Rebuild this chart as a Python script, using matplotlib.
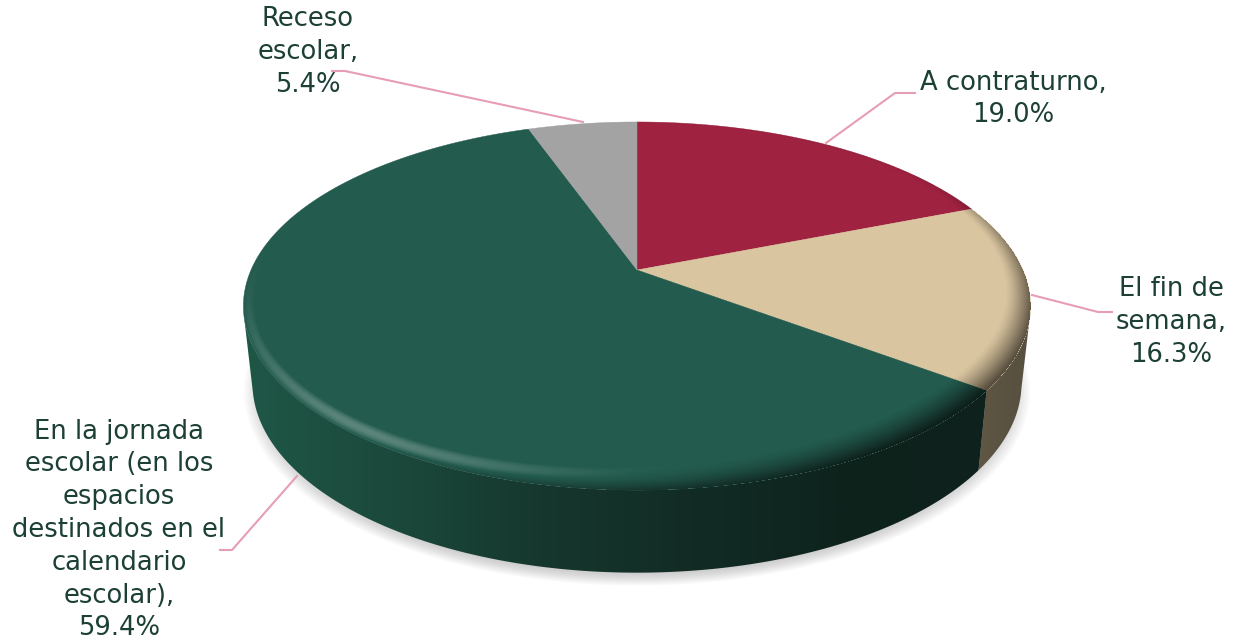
import numpy as np
import matplotlib
matplotlib.use('Agg')
import matplotlib.pyplot as plt
from matplotlib.colors import LinearSegmentedColormap, to_rgb
from matplotlib.patches import Polygon

# datos de la grafica, en el sentido del reloj desde las 12
labels = ['A contraturno', 'El fin de\nsemana',
          'En la jornada\nescolar (en los\nespacios\ndestinados en el\ncalendario\nescolar)',
          'Receso\nescolar']
values = [19.0, 16.3, 59.4, 5.4]
top_colors = ['#9F2241', '#D9C5A0', '#235B4E', '#A3A3A3']
side_stops = [['#5A1326', '#5A1326'],
              ['#5F5643', '#565040'],
              ['#1F5747', '#1B493C', '#16372E', '#122C25', '#0E231D', '#0E211C'],
              ['#5C5C5C', '#5C5C5C']]
rim_colors = ['#5A1326', '#5A5040', '#0E211C', '#5C5C5C']
label_pos = [(1013, 99), (1171, 322), (119, 530), (308, 52)]
leaders = [[(826, 143), (895, 93), (915, 93)],
           [(1032, 295), (1098, 312), (1112, 312)],
           [(297, 476), (232, 550), (220, 550)],
           [(583, 122), (345, 71), (332, 71)]]

text_color = '#1C3F36'
line_color = '#E79DB3'

# perspectiva del disco
cx, cy = 637, 270
rx, ry = 386, 177
persp = 0.1957
depth = 76
bottom_sx = 0.977
bottom_sy = 1.03
# parte visible de la pared, en grados
wall_from, wall_to = 103, 255


def project(u, v):
    w = 1 - persp * v
    return cx + rx * u / w, cy + ry * v / w


def unproject(x, y):
    dy = (y - cy) / ry
    v = dy / (1 + persp * dy)
    u = (x - cx) / rx * (1 - persp * v)
    return u, v


def top_arc(a0, a1, n=200):
    t = np.radians(np.linspace(a0, a1, n))
    return project(np.sin(t), -np.cos(t))


def bottom_arc(a0, a1, n=200):
    x, y = top_arc(a0, a1, n)
    return cx + (x - cx) * bottom_sx, cy + depth + (y - cy) * bottom_sy


fig = plt.figure(figsize=(12.38, 6.4), dpi=100)
ax = fig.add_axes([0, 0, 1, 1])
ax.set_axis_off()

total = sum(values)
edges = np.concatenate([[0], np.cumsum(values)]) / total * 360

# sombra suave debajo del disco
bx, by = bottom_arc(0, 360, 360)
for k in range(14):
    s = 1.022 - k * 0.004
    sx = cx + (bx - cx) * s
    sy = cy + depth + (by - cy - depth) * s + 8
    ax.add_patch(Polygon(np.column_stack([sx, sy]), closed=True, fc='#808080',
                         ec='none', alpha=0.03, zorder=1))

# paredes laterales
for i in range(len(values)):
    a0, a1 = max(edges[i], wall_from), min(edges[i + 1], wall_to)
    if a1 <= a0:
        continue
    x0, y0 = top_arc(a0, a1)
    x1, y1 = bottom_arc(a1, a0)
    side = Polygon(np.column_stack([np.r_[x0, x1], np.r_[y0, y1]]), closed=True,
                   fc='none', ec='none', zorder=2 + (i == 2))
    ax.add_patch(side)
    cmap = LinearSegmentedColormap.from_list('side%d' % i, side_stops[i])
    xmin, xmax = min(x0.min(), x1.min()), max(x0.max(), x1.max())
    grad = ax.imshow(np.linspace(0, 1, 256)[None, :], cmap=cmap, aspect='auto',
                     extent=(xmin, xmax, 640, 0), zorder=2 + (i == 2))
    grad.set_clip_path(side)

# cara superior
for i in range(len(values)):
    x0, y0 = top_arc(edges[i], edges[i + 1])
    pts = np.column_stack([np.r_[cx, x0], np.r_[cy, y0]])
    ax.add_patch(Polygon(pts, closed=True, fc=top_colors[i], ec=top_colors[i],
                         lw=0.3, zorder=4))

# bisel del borde: capa rgba segun la distancia al borde y la luz
gx, gy = np.meshgrid(np.arange(230, 1045) + 0.5, np.arange(110, 505) + 0.5)
gu, gv = unproject(gx, gy)
r = np.sqrt(gu ** 2 + gv ** 2)
nu, nv = gu / r, gv / r
light = np.clip(nu * -0.5 + nv * 0.87, 0, 1)
dark = np.clip(nu * 0.75 + nv * 0.66, 0, 1)
width = 0.025 + 0.04 * np.clip(nv, 0, 1) ** 2 + 0.05 * dark ** 2
t = np.clip((r - 1 + width) / width, 0, 1)
alpha_dark = np.clip(dark ** 1.3 * t ** 1.3 * 1.1, 0, 1)
alpha_light = light ** 4 * np.sin(np.pi * t) * 0.28
alpha_edge = t ** 5 * 0.4 * np.clip(nu * 0.8 - nv * 0.2, 0, 1)
alpha_dark = np.maximum(alpha_dark, alpha_edge)

angle = np.degrees(np.arctan2(gu, -gv)) % 360
slice_idx = np.clip(np.searchsorted(edges, angle) - 1, 0, len(values) - 1)
rim_rgb = np.array([to_rgb(c) for c in rim_colors])[slice_idx]
rgba = np.zeros(gx.shape + (4,))
rgba[..., :3] = np.where(alpha_light[..., None] > alpha_dark[..., None], 1.0, rim_rgb)
rgba[..., 3] = np.abs(alpha_light - alpha_dark)
rgba[r > 1.0] = 0
ax.imshow(rgba, extent=(230, 1045, 505, 110), aspect='auto', zorder=5, interpolation='bilinear')

# lineas guia y etiquetas
for i, label in enumerate(labels):
    xs, ys = zip(*leaders[i])
    ax.plot(xs, ys, color=line_color, lw=1.5, zorder=6, solid_joinstyle='round')
    ax.text(label_pos[i][0], label_pos[i][1], '%s,\n%.1f%%' % (label, values[i]),
            ha='center', va='center', color=text_color, fontsize=18.6,
            family='DejaVu Sans', linespacing=1.34, zorder=7)

ax.set_xlim(0, 1238)
ax.set_ylim(640, 0)
fig.savefig('out.png', dpi=100, facecolor='white')
